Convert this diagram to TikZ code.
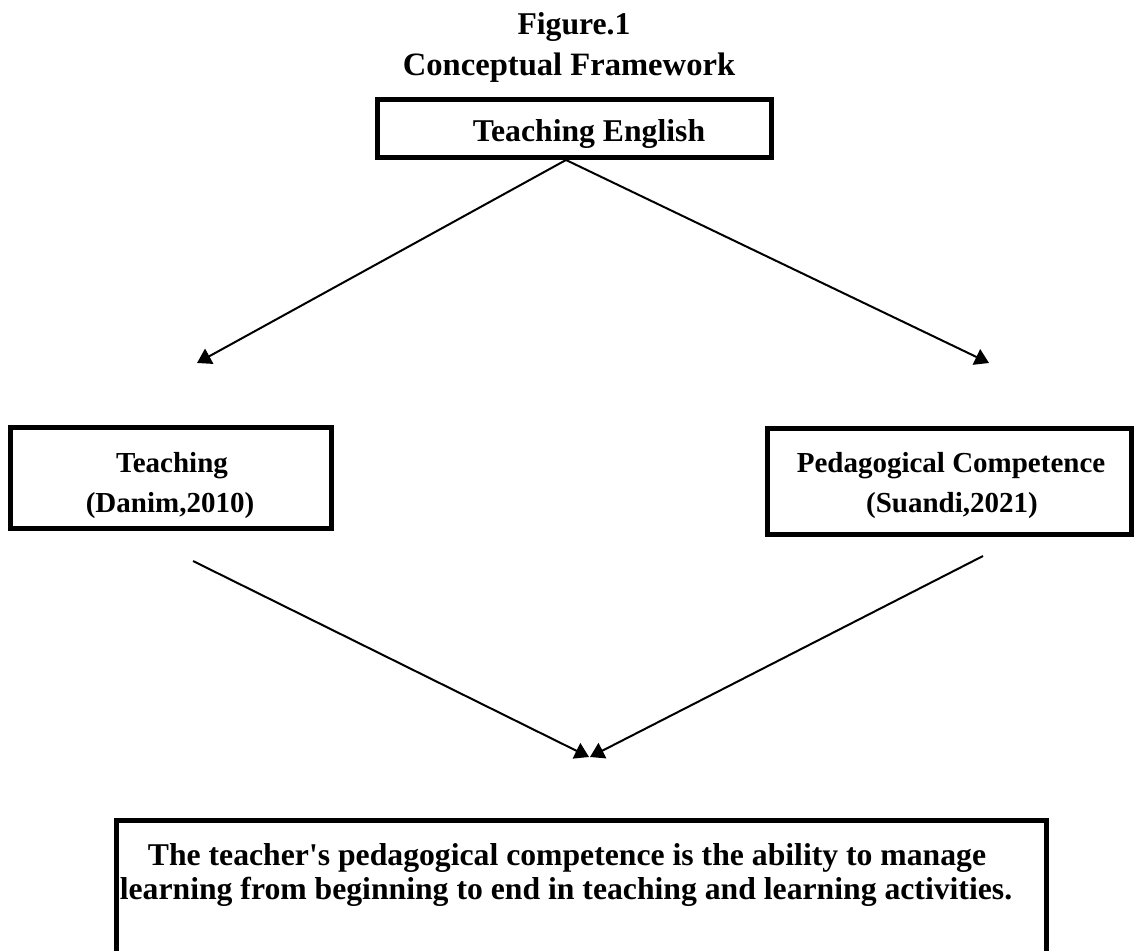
\documentclass[tikz,border=0pt]{standalone}
\usepackage{fontspec}
\setmainfont{Liberation Serif}
\usetikzlibrary{arrows.meta}
\tikzset{
  px/.style={x=0.5pt,y=-0.5pt},
  frame/.style={draw=black,line width=2.5pt},
  conn/.style={draw=black,line width=1pt,-{Triangle[length=7pt,width=8.5pt]}},
  bigtxt/.style={inner sep=0pt,anchor=base,font=\bfseries\fontsize{15.85}{19}\selectfont},
  boxtxt/.style={inner sep=0pt,anchor=base,font=\bfseries\fontsize{14.5}{17}\selectfont}
}
\begin{document}
\begin{tikzpicture}[px]
\clip (0,0) rectangle (1138,951);
\fill[white] (0,0) rectangle (1138,951);
% titles
\node[bigtxt] (fig) at (574,35) {Figure.1};
\node[bigtxt,font=\bfseries\fontsize{16.3}{19}\selectfont] (title) at (569,76) {Conceptual Framework};
% top box
\draw[frame] (377,99.5) rectangle (771,157.5);
\node[bigtxt] (te) at (589,142) {Teaching English};
\coordinate (apex) at (566,160);
% left box
\draw[frame] (10,427.5) rectangle (331,528);
\node[boxtxt] (t1) at (172,472) {Teaching};
\node[boxtxt] (t2) at (170,512) {(Danim,2010)};
% right box
\draw[frame] (767.5,428) rectangle (1131,534);
\node[boxtxt] (p1) at (951,472) {Pedagogical Competence};
\node[boxtxt] (p2) at (952,512) {(Suandi,2021)};
% bottom box (runs off the bottom edge)
\draw[frame] (116,1000) -- (116,820) -- (1046.5,820) -- (1046.5,1000);
\node[bigtxt] (b1) at (567,865) {The teacher\textquotesingle s pedagogical competence is the ability to manage};
\node[bigtxt] (b2) at (566,899) {learning from beginning to end in teaching and learning activities.};
% connector end points
\coordinate (lt) at (197,363);
\coordinate (rt) at (989,363);
\coordinate (ls) at (193,561);
\coordinate (rs) at (983,556);
\coordinate (lend) at (589,757);
\coordinate (rend) at (590,757);
\draw[conn] (apex) -- (lt);
\draw[conn] (apex) -- (rt);
\draw[conn] (ls) -- (lend);
\draw[conn] (rs) -- (rend);
\end{tikzpicture}
\end{document}
